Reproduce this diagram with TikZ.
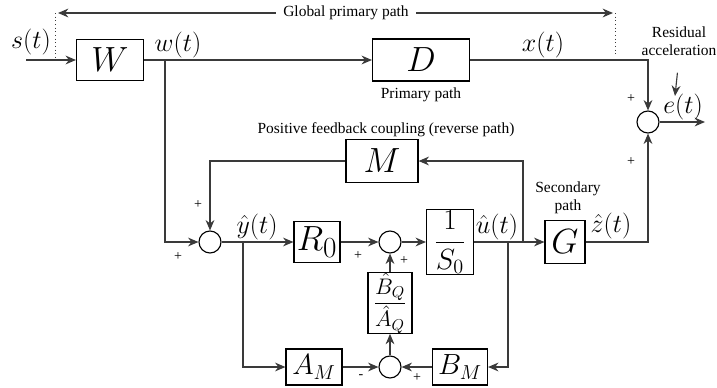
\RequirePackage{fix-cm}
\documentclass[tikz,border=0pt]{standalone}
\usepackage{fontspec}
\newfontfamily\labelfont{Liberation Serif}
\usetikzlibrary{arrows.meta,positioning,calc}
\definecolor{wire}{HTML}{3A3A3A}
\tikzset{
  block/.style={draw=black,line width=0.8pt,fill=white,inner sep=1pt,align=center,
    minimum height=1.05cm,font=\Huge},
  junction/.style={draw=black,circle,line width=0.8pt,minimum size=0.55cm,inner sep=0pt},
  arrow/.style={-{Stealth[length=2.6mm,width=2.2mm]},draw=wire,line width=0.8pt},
  guide/.style={draw=wire,dotted,line width=0.6pt},
  signal/.style={font=\fontsize{18.5}{22}\selectfont,inner sep=0pt},
  labelstyle/.style={font=\labelfont\fontsize{11}{12.5}\selectfont,align=center,inner sep=1.5pt},
  sign/.style={font=\labelfont\fontsize{10}{12}\selectfont,inner sep=0pt}
}
\begin{document}
\begin{tikzpicture}
  \useasboundingbox (0,0) rectangle (17.925,-9.7);
  % forward path
  \node[block,minimum width=1.675cm,minimum height=1.025cm] (W) at (2.75,-1.5) {$W$};
  \node[block,minimum width=2.425cm] (D) at (10.525,-1.5) {$D$};
  \node[junction] (sumE) at (16.2,-3.05) {};
  \coordinate (sIn) at (0.65,-1.5);
  \coordinate (eOut) at (17.625,-3.05);
  \coordinate (wTap) at (4.125,-1.5);
  % control loop
  \node[junction] (sumY) at (5.25,-6.05) {};
  \node[block,minimum width=1.15cm,minimum height=1.025cm] (R0) at (7.925,-6.05) {$R_0$};
  \node[junction] (sumU) at (9.75,-6.05) {};
  \node[block,minimum width=1.175cm,minimum height=1.425cm,font=\huge] (S0) at (11.25,-6.05)
    {$\displaystyle\frac{1}{S_0}$};
  \node[block,minimum width=1cm,minimum height=1.075cm] (G) at (14.125,-6.05) {$G$};
  \node[block,minimum width=1.8cm,minimum height=1.075cm] (M) at (9.55,-4.025) {$M$};
  \coordinate (yTap) at (6.075,-6.05);
  \coordinate (uTap) at (12.7,-6.05);
  \coordinate (mTap) at (13.075,-6.05);
  % Youla--Kucera part
  \node[block,minimum width=1.1cm,minimum height=1.4cm,inner sep=0pt,
    font=\fontsize{16}{19}\selectfont] (Q) at (9.75,-7.575)
    {$\displaystyle\frac{\hat{B}_Q}{\hat{A}_Q}$};
  \node[junction] (sumQ) at (9.75,-9.175) {};
  \node[block,minimum width=1.4cm,minimum height=0.9cm,font=\huge] (AM) at (7.85,-9.175) {$A_M$};
  \node[block,minimum width=1.375cm,minimum height=0.9cm,font=\huge] (BM) at (11.5,-9.175) {$B_M$};
  % global primary path
  \node[labelstyle,inner xsep=5pt] (gpp) at (8.65,-0.325) {Global primary path};
  \coordinate (gL) at (1.45,-0.325);
  \coordinate (gR) at (15.325,-0.325);
  \coordinate (dL) at (1.39,-0.325);
  \coordinate (dR) at (15.375,-0.325);
  \draw[arrow] (gpp.west) -- (gL);
  \draw[arrow] (gpp.east) -- (gR);
  \draw[guide] (dL) -- (dL |- W);
  \draw[guide] (dR) -- ++(0,-1.05);
  % connections
  \draw[arrow] (sIn) -- (W);
  \draw[arrow] (W) -- (D);
  \draw[arrow] (D.east) -| (sumE.north);
  \draw[arrow] (sumE) -- (eOut);
  \draw[arrow] (wTap) |- (sumY.west);
  \draw[arrow] (sumY) -- (R0);
  \draw[arrow] (R0) -- (sumU);
  \draw[arrow] (sumU) -- (S0);
  \draw[arrow] (S0) -- (G);
  \draw[arrow] (G.east) -| (sumE.south);
  \draw[arrow] (mTap) |- (M.east);
  \draw[arrow] (M.west) -| (sumY.north);
  \draw[arrow] (yTap) |- (AM.west);
  \draw[arrow] (AM) -- (sumQ);
  \draw[arrow] (uTap) |- (BM.east);
  \draw[arrow] (BM) -- (sumQ);
  \draw[arrow] (sumQ) -- (Q);
  \draw[arrow] (Q) -- (sumU);
  % signals
  \node[signal] (sLbl) at (0.775,-1.05) {$s(t)$};
  \node[signal] (wLbl) at (4.45,-1.125) {$w(t)$};
  \node[signal] (xLbl) at (13.575,-1.125) {$x(t)$};
  \node[signal] (eLbl) at (17.075,-2.675) {$e(t)$};
  \node[signal] (yLbl) at (6.425,-5.675) {$\hat{y}(t)$};
  \node[signal] (uLbl) at (12.425,-5.675) {$\hat{u}(t)$};
  \node[signal] (zLbl) at (15.275,-5.65) {$\hat{z}(t)$};
  % texts
  \node[labelstyle] (dTxt) at (10.525,-2.375) {Primary path};
  \node[labelstyle] (mTxt) at (9.65,-3.25) {Positive feedback coupling (reverse path)};
  \node[labelstyle] (gTxt) at (14.2,-4.95) {Secondary\\path};
  \node[labelstyle] (res) at (16.975,-1.025) {Residual\\acceleration};
  \coordinate (resTip) at (16.875,-2.4);
  \draw[arrow,shorten <=0.38cm] (res.south) -- (resTip);
  % signs
  \node[sign] at (15.775,-2.475) {+};
  \node[sign] at (15.775,-4.05) {+};
  \node[sign] at (4.95,-5.125) {+};
  \node[sign] at (4.45,-6.425) {+};
  \node[sign] at (8.95,-6.4) {+};
  \node[sign] at (10.1,-6.525) {+};
  \node[sign] at (9.025,-9.425) {-};
  \node[sign] at (10.425,-9.45) {+};
\end{tikzpicture}
\end{document}
